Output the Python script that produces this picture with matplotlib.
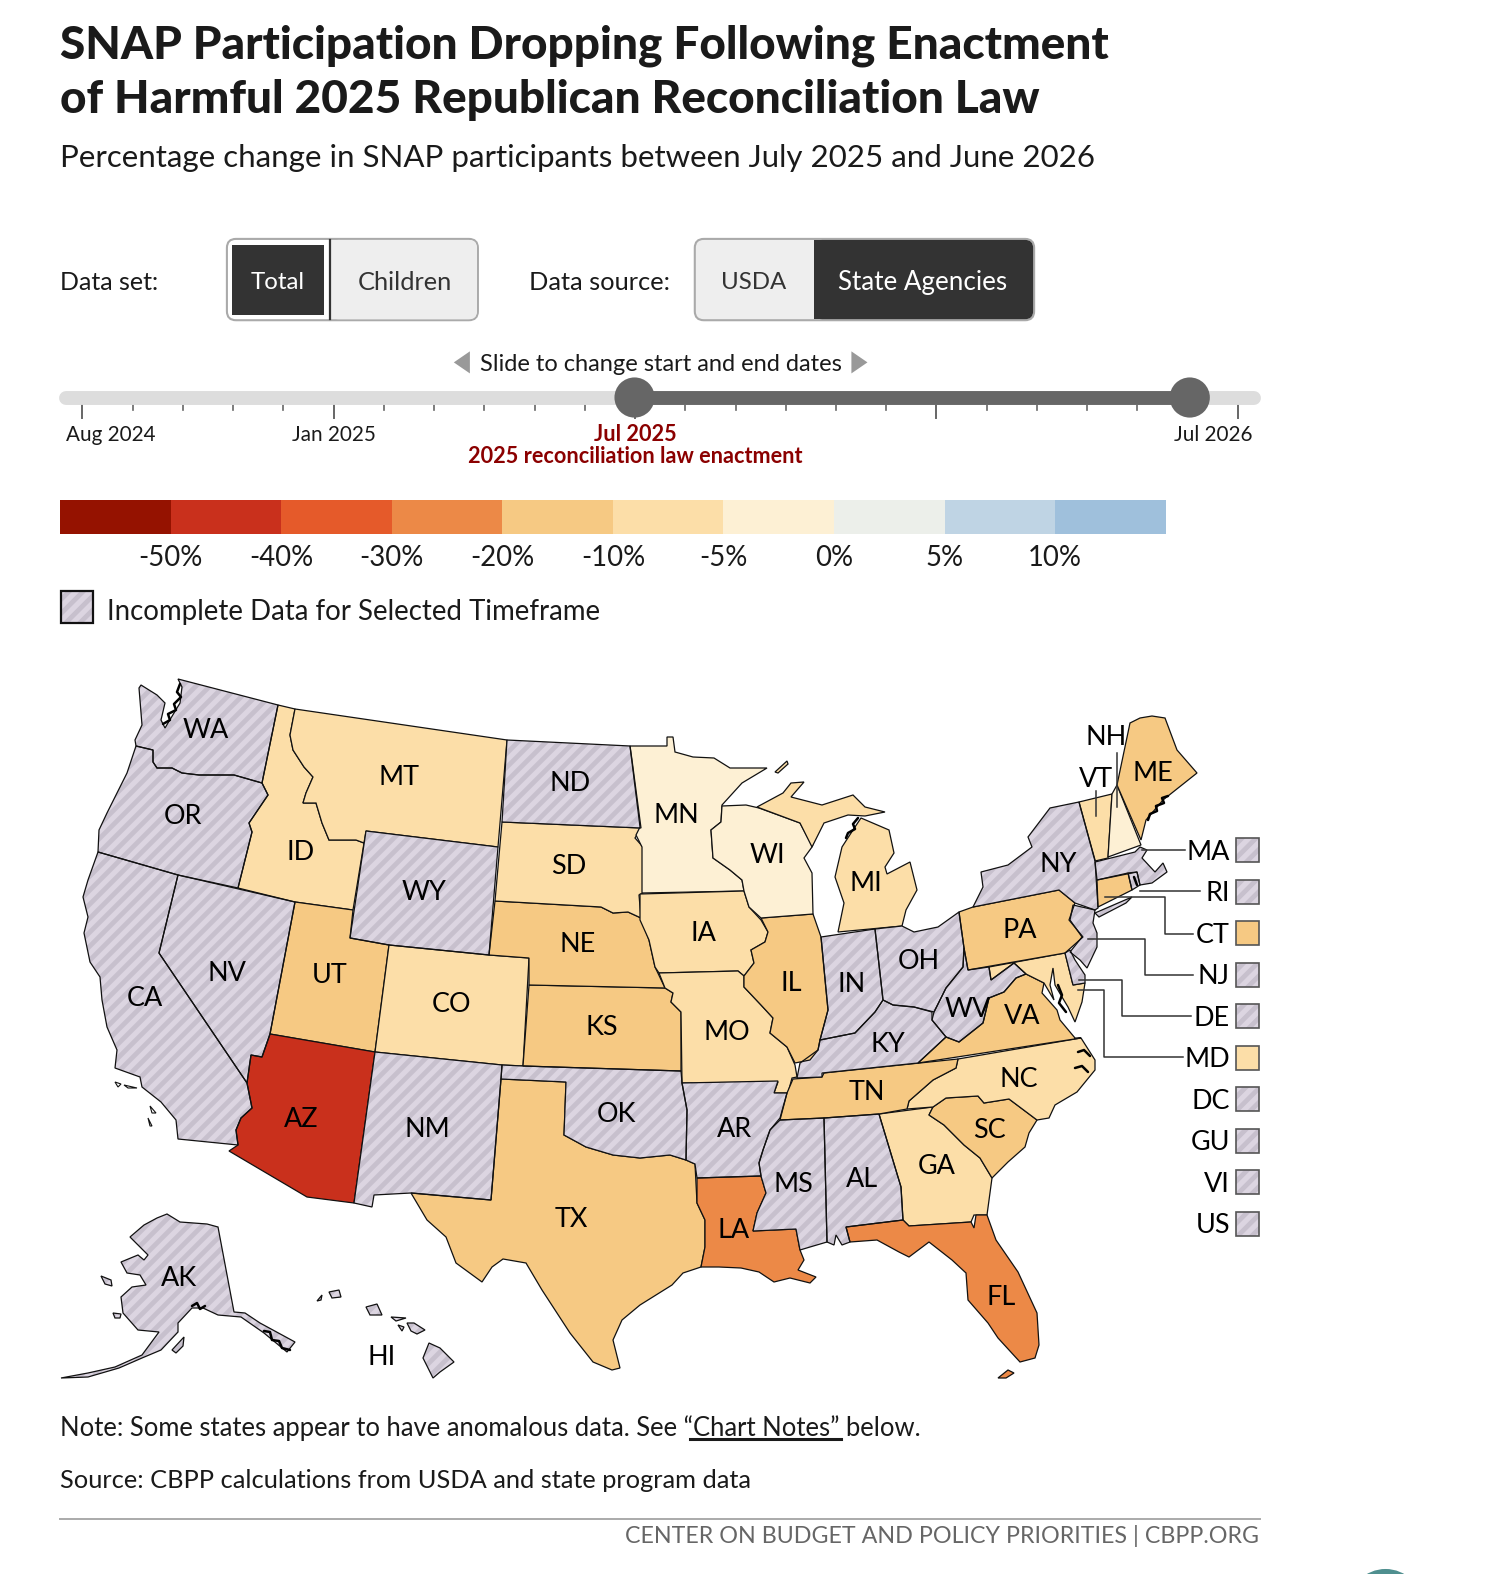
import numpy as np
import matplotlib
matplotlib.use("Agg")
import matplotlib.pyplot as plt
from matplotlib.collections import LineCollection
from matplotlib.patches import Polygon, Rectangle, FancyBboxPatch, Circle

# state outlines
WA = [(178,679),(278,705),(262,783),(234,775),(199,775),(182,773),(172,768),(157,768),(153,762),(153,750),(136,746),(135,740),(142,725),(139,688),(141,685),(157,695),(165,703),(161,720),(165,728),(180,703),(182,687)]
OR = [(136,746),(153,750),(153,762),(157,768),(172,768),(182,773),(199,775),(234,775),(262,783),(268,795),(249,823),(252,832),(238,888),(178,875),(98,852),(99,830),(107,813),(127,773)]
CA = [(98,852),(178,875),(159,953),(247,1083),(252,1108),(241,1118),(236,1130),(238,1145),(178,1139),(176,1120),(161,1102),(142,1087),(140,1077),(115,1068),(117,1050),(107,1027),(102,1000),(100,977),(90,962),(84,933),(88,917),(83,897),(88,880)]
NV = [(178,875),(295,902),(270,1034),(262,1057),(251,1055),(247,1083),(159,953)]
ID = [(278,705),(295,709),(290,735),(293,750),(304,767),(313,777),(306,793),(303,803),(316,803),(322,823),(329,840),(356,840),(364,843),(353,910),(295,902),(238,888),(252,832),(249,823),(268,795),(262,783)]
MT = [(295,709),(507,740),(498,847),(366,831),(364,843),(356,840),(329,840),(322,823),(316,803),(303,803),(306,793),(313,777),(304,767),(293,750),(290,735)]
WY = [(366,831),(498,847),(489,955),(389,945),(350,938)]
UT = [(295,902),(353,910),(350,938),(389,945),(375,1052),(270,1034)]
CO = [(389,945),(489,955),(529,958),(523,1066),(502,1065),(375,1052)]
AZ = [(270,1034),(375,1052),(354,1203),(307,1197),(229,1151),(238,1145),(236,1130),(241,1118),(252,1108),(247,1083),(251,1055),(262,1057)]
NM = [(375,1052),(502,1065),(501,1079),(491,1200),(411,1193),(374,1195),(372,1207),(354,1203)]
TX = [(501,1079),(566,1082),(564,1135),(586,1147),(613,1155),(640,1158),(670,1155),(686,1160),(695,1164),(697,1203),(705,1220),(705,1247),(701,1267),(683,1273),(672,1285),(640,1305),(622,1320),(613,1340),(620,1368),(612,1370),(593,1362),(570,1333),(542,1290),(526,1263),(503,1259),(492,1267),(482,1282),(456,1263),(446,1237),(427,1220),(411,1193),(491,1200)]
OK = [(502,1065),(523,1066),(681,1071),(682,1083),(687,1110),(686,1160),(670,1155),(640,1158),(613,1155),(586,1147),(564,1135),(566,1082),(501,1079)]
KS = [(529,985),(665,988),(673,993),(671,1002),(681,1012),(681,1071),(523,1066)]
NE = [(495,901),(601,907),(613,913),(628,912),(641,918),(649,940),(655,967),(665,988),(529,985),(529,958),(489,955)]
SD = [(502,822),(641,828),(635,838),(643,847),(643,893),(639,895),(641,918),(628,912),(613,913),(601,907),(495,901)]
ND = [(507,740),(630,746),(632,760),(641,828),(502,822)]
MN = [(630,746),(667,746),(667,737),(673,737),(675,752),(693,757),(714,758),(730,768),(767,768),(742,783),(722,805),(721,822),(711,830),(713,858),(730,870),(742,880),(744,891),(642,893),(642,847),(636,835),(640,827)]
IA = [(640,894),(744,891),(749,907),(761,920),(768,932),(765,942),(751,950),(754,963),(744,976),(738,971),(659,973),(655,967),(649,940),(640,920)]
MO = [(659,973),(738,971),(744,976),(744,987),(761,1005),(773,1018),(770,1033),(787,1047),(795,1065),(797,1077),(792,1078),(788,1093),(774,1093),(778,1082),(682,1083),(681,1012),(671,1002),(673,993),(665,988)]
AR = [(682,1083),(778,1081),(774,1093),(787,1093),(780,1118),(770,1130),(763,1150),(759,1163),(761,1176),(697,1178),(695,1164),(686,1160),(687,1110)]
LA = [(697,1178),(761,1176),(766,1193),(757,1213),(753,1231),(796,1229),(800,1250),(804,1260),(798,1270),(816,1277),(810,1283),(790,1278),(774,1282),(759,1272),(741,1268),(719,1267),(701,1267),(705,1247),(705,1220),(697,1203)]
MS = [(780,1120),(824,1118),(827,1242),(810,1247),(800,1250),(796,1229),(753,1231),(757,1213),(766,1193),(761,1176),(759,1163),(763,1150),(770,1130)]
AL = [(824,1118),(879,1114),(901,1187),(903,1220),(846,1227),(850,1242),(842,1245),(836,1235),(834,1245),(827,1242)]
GA = [(879,1114),(933,1107),(929,1115),(944,1125),(964,1145),(980,1158),(992,1178),(987,1215),(974,1215),(971,1222),(909,1226),(903,1220),(901,1187)]
FL = [(846,1227),(903,1220),(909,1226),(971,1222),(974,1228),(976,1215),(987,1215),(996,1240),(1018,1272),(1037,1313),(1039,1345),(1035,1358),(1020,1362),(998,1338),(988,1323),(968,1300),(966,1273),(952,1260),(929,1242),(909,1257),(899,1252),(877,1240),(850,1242)]
FL_KEYS = [(998,1378),(1008,1370),(1014,1373),(1006,1378)]
SC = [(933,1107),(946,1098),(978,1096),(984,1103),(1009,1099),(1037,1120),(1029,1133),(1025,1147),(1008,1162),(992,1178),(980,1158),(964,1145),(944,1125),(929,1115)]
NC = [(907,1109),(909,1101),(933,1080),(956,1068),(958,1059),(1081,1038),(1095,1060),(1095,1070),(1077,1092),(1055,1105),(1049,1118),(1037,1120),(1009,1099),(984,1103),(978,1096),(946,1098),(933,1107)]
TN = [(780,1120),(787,1093),(793,1079),(822,1077),(824,1073),(958,1059),(956,1068),(933,1080),(909,1101),(907,1109),(879,1114),(824,1118)]
KY = [(797,1078),(822,1077),(822,1073),(918,1063),(946,1037),(932,1020),(932,1012),(914,1007),(893,1005),(883,1000),(875,1012),(855,1033),(820,1040),(818,1050),(800,1063)]
IN = [(821,937),(875,929),(883,1000),(875,1012),(855,1033),(820,1040),(828,1010)]
IL = [(761,918),(813,914),(821,937),(826,990),(828,1010),(820,1040),(818,1050),(810,1060),(795,1063),(787,1047),(770,1033),(773,1018),(761,1005),(744,987),(744,976),(754,963),(751,950),(765,942),(768,932)]
WI = [(722,806),(746,805),(759,808),(800,823),(808,838),(824,812),(812,847),(804,858),(812,873),(813,914),(761,918),(749,907),(744,891),(742,880),(730,870),(713,858),(711,830),(721,822)]
MI_UPPER = [(757,807),(783,793),(791,783),(804,782),(791,797),(822,805),(853,795),(865,807),(885,812),(865,816),(848,815),(824,823),(812,847),(800,823)]
MI_LOWER = [(861,818),(889,830),(894,853),(885,867),(887,874),(910,862),(917,890),(906,910),(902,926),(838,932),(844,903),(835,877),(842,847),(853,830)]
MI_ISLE = [(775,772),(787,761),(788,764),(778,773)]
OH = [(875,929),(902,926),(914,932),(938,927),(959,912),(964,948),(963,967),(946,988),(934,1012),(914,1007),(893,1005),(883,1000)]
WV = [(964,948),(968,970),(989,967),(991,980),(1014,963),(1026,974),(1016,978),(1004,992),(989,998),(983,1023),(959,1042),(946,1037),(932,1020),(934,1012),(946,988),(963,967)]
VA = [(918,1063),(946,1037),(959,1042),(983,1023),(989,998),(1004,992),(1016,978),(1026,974),(1044,983),(1042,993),(1057,1010),(1060,1020),(1075,1038),(1081,1038)]
MD = [(989,967),(1065,953),(1073,985),(1085,983),(1082,1002),(1075,1022),(1068,1007),(1062,997),(1055,985),(1053,968),(1050,985),(1054,1000),(1044,983),(1026,974),(1014,963),(991,980)]
DE = [(1065,953),(1070,950),(1075,960),(1085,975),(1085,983),(1073,985)]
NJ = [(1073,905),(1095,910),(1093,923),(1097,933),(1097,947),(1087,968),(1080,960),(1070,952),(1082,937),(1070,920)]
PA = [(959,912),(973,907),(1059,890),(1075,903),(1069,920),(1083,937),(1065,953),(968,970),(964,948)]
NY = [(1050,808),(1079,802),(1095,860),(1098,908),(1095,910),(1075,903),(1059,890),(973,907),(983,887),(981,872),(1008,865),(1032,847),(1028,837)]
NY_LI = [(1095,913),(1132,897),(1126,903),(1099,917)]
VT = [(1079,802),(1112,794),(1108,858),(1095,861)]
NH = [(1112,794),(1117,785),(1141,845),(1108,857)]
ME = [(1117,785),(1130,723),(1140,718),(1152,716),(1165,718),(1177,750),(1197,773),(1163,800),(1146,820),(1141,840)]
MA = [(1095,862),(1135,852),(1140,847),(1147,850),(1142,858),(1155,872),(1163,863),(1167,872),(1152,883),(1140,885),(1137,872),(1097,880)]
RI = [(1128,873),(1137,872),(1140,885),(1132,890)]
CT = [(1097,880),(1128,873),(1132,890),(1098,907)]
AK = [(167,1214),(180,1222),(207,1224),(218,1227),(234,1312),(245,1313),(260,1323),(295,1342),(287,1352),(264,1333),(241,1317),(218,1315),(203,1308),(192,1308),(178,1323),(178,1332),(161,1350),(142,1358),(119,1368),(88,1377),(61,1378),(88,1373),(115,1367),(142,1355),(159,1332),(138,1330),(123,1313),(121,1297),(132,1287),(146,1285),(140,1275),(127,1273),(121,1262),(138,1255),(144,1260),(148,1255),(136,1243),(130,1237),(144,1225),(157,1218)]
AK_LAWRENCE = [(101,1276),(111,1280),(112,1286),(105,1284)]
AK_KODIAK = [(172,1350),(184,1337),(183,1346),(176,1353)]
AK_NUNIVAK = [(113,1313),(121,1314),(120,1318),(115,1318)]
HI_BIG = [(429,1343),(440,1348),(454,1362),(440,1372),(433,1378),(423,1358)]
HI_MAUI = [(407,1323),(414,1323),(425,1330),(417,1334),(411,1331)]
HI_MOLOKAI = [(391,1317),(406,1318),(396,1321)]
HI_LANAI = [(398,1325),(404,1327),(402,1331)]
HI_OAHU = [(366,1307),(377,1304),(382,1315),(370,1315)]
HI_KAUAI = [(329,1292),(339,1290),(341,1297),(332,1298)]
HI_NIIHAU = [(317,1301),(322,1295),(321,1300)]

state_shapes = {
    "WA": [WA], "OR": [OR], "CA": [CA], "NV": [NV], "ID": [ID], "MT": [MT], "WY": [WY], "UT": [UT],
    "CO": [CO], "AZ": [AZ], "NM": [NM], "TX": [TX], "OK": [OK], "KS": [KS], "NE": [NE], "SD": [SD],
    "ND": [ND], "MN": [MN], "IA": [IA], "MO": [MO], "AR": [AR], "LA": [LA], "MS": [MS], "AL": [AL],
    "GA": [GA], "FL": [FL, FL_KEYS], "SC": [SC], "NC": [NC], "TN": [TN], "KY": [KY], "IN": [IN], "IL": [IL],
    "WI": [WI], "MI": [MI_UPPER, MI_LOWER, MI_ISLE], "OH": [OH], "WV": [WV], "VA": [VA], "MD": [MD],
    "DE": [DE], "NJ": [NJ], "PA": [PA], "NY": [NY, NY_LI], "VT": [VT], "NH": [NH], "ME": [ME], "MA": [MA],
    "RI": [RI], "CT": [CT], "AK": [AK, AK_LAWRENCE, AK_KODIAK, AK_NUNIVAK],
    "HI": [HI_BIG, HI_MAUI, HI_MOLOKAI, HI_LANAI, HI_OAHU, HI_KAUAI, HI_NIIHAU],
}

# legend bins and which states sit in them
scale_ticks = ["-50%", "-40%", "-30%", "-20%", "-10%", "-5%", "0%", "5%", "10%"]
scale_colors = ["#951200", "#c9301c", "#e55a2a", "#ec8947", "#f6c983", "#fcdea8", "#fdf0d4", "#ecefea", "#bfd4e4", "#9fc0dc"]
bin_m50_m40 = ["AZ"]
bin_m30_m20 = ["LA", "FL"]
bin_m20_m10 = ["UT", "NE", "KS", "TX", "IL", "TN", "VA", "PA", "ME", "CT", "SC"]
bin_m10_m5 = ["ID", "MT", "CO", "SD", "IA", "MO", "MI", "GA", "NC", "VT", "MD"]
bin_m5_0 = ["MN", "WI", "NH"]

side_labels = ["MA", "RI", "CT", "NJ", "DE", "MD", "DC", "GU", "VI", "US"]
tick_months = 24

label_pos = {
    "WA": (205,726), "OR": (182,811), "CA": (144,993), "NV": (226,968), "ID": (299,847), "MT": (397,773),
    "WY": (422,887), "UT": (328,970), "CO": (450,999), "AZ": (300,1113), "NM": (426,1123), "ND": (568,779),
    "SD": (566,861), "NE": (575,939), "KS": (599,1022), "OK": (614,1108), "TX": (569,1213), "MN": (674,810),
    "IA": (701,928), "MO": (724,1027), "AR": (732,1123), "LA": (731,1224), "WI": (764,850), "IL": (788,978),
    "MS": (790,1178), "MI": (862,878), "IN": (848,979), "KY": (884,1039), "TN": (863,1086), "AL": (859,1173),
    "OH": (915,956), "GA": (933,1160), "FL": (997,1291), "SC": (985,1124), "NC": (1015,1073), "WV": (964,1004),
    "VA": (1018,1011), "PA": (1016,925), "NY": (1054,859), "ME": (1148,769), "NH": (1102,733), "VT": (1092,775),
    "AK": (178,1272), "HI": (380,1350),
}

state_color = {}
for names, col in [(bin_m50_m40, scale_colors[1]), (bin_m30_m20, scale_colors[3]), (bin_m20_m10, scale_colors[4]),
                   (bin_m10_m5, scale_colors[5]), (bin_m5_0, scale_colors[6])]:
    for name in names:
        state_color[name] = col

SANS = ["Lato", "DejaVu Sans"]
INK = "#1a1a1a"
HATCH_BG = "#dcd5e1"
HATCH_FG = "#c7c0cd"

fig = plt.figure(figsize=(14.98, 15.74), dpi=100)
# state outlines were read in image pixels, everything else in the slightly smaller preview
ax_map = fig.add_axes([0, 0, 1, 1])
ax_map.set_xlim(0, 1498)
ax_map.set_ylim(1574, 0)
ax_map.axis("off")
ax = fig.add_axes([0, 0, 1, 1])
ax.set_xlim(0, 1492)
ax.set_ylim(1568, 0)
ax.axis("off")


def px(size):
    # font size given in picture pixels
    return size * 0.72


def put(x, y, s, size, color=INK, **kw):
    # Lato sits a little high with va=center, so nudge it down
    kw.setdefault("va", "center")
    return ax.text(x, y + 2, s, fontsize=px(size), family=SANS, color=color, **kw)


def hatched(target, points, edge="#111111", lw=0.9, z=2):
    patch = Polygon(points, closed=True, facecolor=HATCH_BG, edgecolor="none", zorder=z)
    target.add_patch(patch)
    xs = [p[0] for p in points]
    ys = [p[1] for p in points]
    # stripes run along x + y = c
    start = np.floor((min(xs) + min(ys)) / 14) * 14
    stop = max(xs) + max(ys) + 14
    segs = [[(c - min(ys) + 5, min(ys) - 5), (c - max(ys) - 5, max(ys) + 5)] for c in np.arange(start, stop, 14)]
    lines = LineCollection(segs, colors=HATCH_FG, linewidths=3.4, zorder=z)
    target.add_collection(lines)
    lines.set_clip_path(patch)
    target.add_patch(Polygon(points, closed=True, facecolor="none", edgecolor=edge, linewidth=lw, zorder=z + 0.1))


# title block
put(60, 44, "SNAP Participation Dropping Following Enactment", 46, fontweight="black")
put(60, 98, "of Harmful 2025 Republican Reconciliation Law", 46, fontweight="black")
put(60, 155, "Percentage change in SNAP participants between July 2025 and June 2026", 31.3)

# toggles
put(60, 279, "Data set:", 25)
put(527, 279, "Data source:", 25.4)
ax.add_patch(FancyBboxPatch((226, 238), 250, 81, boxstyle="round,pad=0,rounding_size=9", facecolor="white", edgecolor="#aaaaaa", linewidth=1.5))
ax.add_patch(FancyBboxPatch((329, 239), 146, 79, boxstyle="round,pad=0,rounding_size=8", facecolor="#eeeeee", edgecolor="none"))
ax.add_patch(Rectangle((329, 239), 10, 79, facecolor="#eeeeee", edgecolor="none"))
ax.plot([329, 329], [239, 318], color="#333333", lw=1.6)
ax.add_patch(Rectangle((231, 244), 92, 70, facecolor="#333333", edgecolor="none"))
put(277, 279, "Total", 24, color="white", ha="center")
put(403, 279, "Children", 25.4, color="#333333", ha="center")
ax.add_patch(FancyBboxPatch((692, 238), 338, 81, boxstyle="round,pad=0,rounding_size=9", facecolor="#eeeeee", edgecolor="#aaaaaa", linewidth=1.5))
ax.add_patch(FancyBboxPatch((811, 239), 218, 79, boxstyle="round,pad=0,rounding_size=8", facecolor="#333333", edgecolor="none"))
ax.add_patch(Rectangle((811, 239), 10, 79, facecolor="#333333", edgecolor="none"))
put(751, 279, "USDA", 24, color="#333333", ha="center")
put(919, 279, "State Agencies", 26, color="white", ha="center")

# date slider
put(658, 361, "Slide to change start and end dates", 23.6, ha="center")
ax.add_patch(Polygon([(468, 350), (468, 372), (452, 361)], closed=True, facecolor="#999999", edgecolor="none"))
ax.add_patch(Polygon([(848, 350), (848, 372), (864, 361)], closed=True, facecolor="#999999", edgecolor="none"))
ax.plot([66, 1249], [396, 396], color="#dddddd", lw=10, solid_capstyle="round")
tick_x = np.linspace(82, 1233, tick_months)
for i, x in enumerate(tick_x):
    big = i in (0, 5, 11, 17, 23)
    ax.plot([x, x], [403, 416 if big else 408], color="#666666", lw=1.4 if big else 1.2, zorder=1)
ax.plot([632, 1185], [396, 396], color="#666666", lw=10, solid_capstyle="butt", zorder=3)
ax.add_patch(Circle((632, 396), 20, facecolor="#666666", edgecolor="none", zorder=4))
ax.add_patch(Circle((1185, 396), 20, facecolor="#666666", edgecolor="none", zorder=4))
for x, s in [(110, "Aug 2024"), (333, "Jan 2025"), (1208, "Jul 2026")]:
    put(x, 431, s, 20.6, ha="center")
put(633, 431, "Jul 2025", 21.7, color="#8b0000", fontweight="bold", ha="center")
put(633, 453, "2025 reconciliation law enactment", 21.7, color="#8b0000", fontweight="bold", ha="center")

# colour scale
scale_edges = np.linspace(60, 1161, len(scale_colors) + 1)
for i, col in enumerate(scale_colors):
    ax.add_patch(Rectangle((scale_edges[i], 498), scale_edges[i + 1] - scale_edges[i], 34, facecolor=col, edgecolor="none"))
for x, s in zip(scale_edges[1:], scale_ticks):
    put(x, 554, s, 27.5, ha="center")
hatched(ax, [(61, 589), (93, 589), (93, 621), (61, 621)], edge="#111111", lw=1.6)
put(107, 608, "Incomplete Data for Selected Timeframe", 27.6)

# map
for name, parts in state_shapes.items():
    for part in parts:
        if name in state_color:
            ax_map.add_patch(Polygon(part, closed=True, facecolor=state_color[name], edgecolor="#111111", linewidth=0.9, zorder=2))
        else:
            hatched(ax_map, part)
for name, (x, y) in label_pos.items():
    put(x, y, name, 27, color="black", ha="center", zorder=6)

# rough coast detail, too small to be worth a state outline
coast_bits = [
    [(180, 684), (177, 692), (181, 697), (174, 704), (176, 710), (168, 714), (170, 720), (163, 724)],
    [(858, 818), (853, 824), (855, 829), (848, 833), (846, 838)],
    [(1168, 796), (1162, 798), (1164, 803), (1156, 806), (1157, 811), (1150, 814), (1148, 820)],
    [(264, 1331), (270, 1332), (272, 1340), (279, 1341), (282, 1348), (290, 1350)],
    [(192, 1306), (197, 1303), (200, 1309), (205, 1306)],
    [(1134, 877), (1137, 885)],
    [(1078, 1052), (1084, 1050), (1090, 1056)],
    [(1075, 1068), (1082, 1066), (1088, 1072)],
    [(1058, 985), (1062, 995), (1059, 1003), (1066, 1012)],
]
for bit in coast_bits:
    ax_map.plot([p[0] for p in bit], [p[1] for p in bit], color="black", lw=1.8, zorder=3, solid_capstyle="round")
islands = [[(115, 1082), (121, 1084), (118, 1087)], [(124, 1085), (137, 1088), (128, 1088)], [(150, 1106), (156, 1113), (152, 1113)], [(148, 1118), (152, 1126), (150, 1126)]]
for isl in islands:
    ax_map.add_patch(Polygon(isl, closed=True, facecolor="white", edgecolor="#111111", linewidth=0.8, zorder=2))

# leader lines for the small north-east states
leaders = [
    [(1092, 788), (1092, 813)],
    [(1113, 750), (1113, 804)],
    [(1137, 847), (1180, 847)],
    [(1135, 888), (1195, 888)],
    [(1101, 894), (1160, 894), (1160, 930), (1188, 930)],
    [(1084, 935), (1140, 935), (1140, 971), (1188, 971)],
    [(1075, 976), (1118, 976), (1118, 1012), (1186, 1012)],
    [(1074, 986), (1100, 986), (1100, 1053), (1178, 1053)],
]
for line in leaders:
    ax.plot([p[0] for p in line], [p[1] for p in line], color="#333333", lw=1.1, zorder=5)

side_y = np.linspace(847, 1219, len(side_labels))
for name, y in zip(side_labels, side_y):
    put(1225, y, name, 27, color="black", ha="right")
    box = [(1231, y - 12), (1254, y - 12), (1254, y + 12), (1231, y + 12)]
    if name in state_color:
        ax.add_patch(Polygon(box, closed=True, facecolor=state_color[name], edgecolor="#555555", linewidth=1.2))
    else:
        hatched(ax, box, edge="#555555", lw=1.2)

# notes and footer
put(60, 1421, "Note: Some states appear to have anomalous data. See “Chart Notes” below.", 25.6)
ax.plot([687, 838], [1434, 1434], color=INK, lw=2.2)
put(60, 1473, "Source: CBPP calculations from USDA and state program data", 25.4)
ax.plot([60, 1255], [1513, 1513], color="#aaaaaa", lw=1.4)
put(1254, 1528, "CENTER ON BUDGET AND POLICY PRIORITIES | CBPP.ORG", 23.3, color="#666666", ha="right")
ax.add_patch(Circle((1380, 1600), 37, facecolor="#4f8f8f", edgecolor="none"))

fig.savefig("out.png", dpi=100)
